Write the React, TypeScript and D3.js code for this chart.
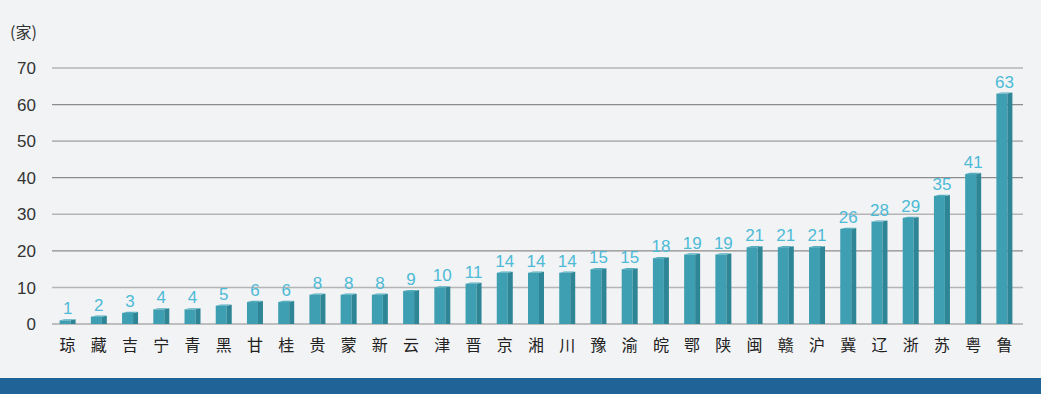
import * as d3 from 'd3';
import React, { useEffect, useRef } from 'react';

const provinces = ['琼', '藏', '吉', '宁', '青', '黑', '甘', '桂', '贵', '蒙', '新', '云', '津', '晋', '京', '湘', '川', '豫', '渝', '皖', '鄂', '陕', '闽', '赣', '沪', '冀', '辽', '浙', '苏', '粤', '鲁'];
const counts = [1, 2, 3, 4, 4, 5, 6, 6, 8, 8, 8, 9, 10, 11, 14, 14, 14, 15, 15, 18, 19, 19, 21, 21, 21, 26, 28, 29, 35, 41, 63];
const yTicks = [0, 10, 20, 30, 40, 50, 60, 70];

const App = () => {
  const ref = useRef<SVGSVGElement>(null);

  useEffect(() => {
    const width = 1041;
    const height = 394;
    const margin = { top: 68, right: 18, bottom: 70, left: 52 };
    const svg = d3.select(ref.current);
    svg.selectAll('*').remove();
    svg.attr('width', width).attr('height', height);

    svg.append('rect').attr('width', width).attr('height', height).attr('fill', '#f2f3f5');
    svg.append('rect').attr('y', 378).attr('width', width).attr('height', 16).attr('fill', '#1f6397');

    const x = d3.scaleBand().domain(provinces).range([margin.left, width - margin.right - 3]);
    const y = d3.scaleLinear().domain([0, 70]).range([height - margin.bottom, margin.top]);

    // gridlines
    svg.append('g')
      .selectAll('line')
      .data(yTicks)
      .join('line')
      .attr('x1', margin.left)
      .attr('x2', width - margin.right)
      .attr('y1', (d) => y(d))
      .attr('y2', (d) => y(d))
      .attr('stroke', (d, i) => (i === 0 ? '#8a8a8a' : i % 2 === 0 ? '#8c8c8c' : '#b5b5b5'))
      .attr('stroke-width', (d, i) => (i % 2 === 0 ? 1.2 : 1.6));

    // y tick labels
    svg.append('g')
      .selectAll('text')
      .data(yTicks)
      .join('text')
      .attr('x', 36)
      .attr('y', (d) => y(d))
      .attr('dy', '0.36em')
      .attr('text-anchor', 'end')
      .attr('font-family', 'Liberation Sans, Arial, sans-serif')
      .attr('font-size', 17)
      .attr('fill', '#333')
      .text((d) => d);

    svg.append('text')
      .attr('x', 10)
      .attr('y', 38)
      .attr('font-family', 'Noto Sans CJK SC, sans-serif')
      .attr('font-size', 16)
      .attr('fill', '#333')
      .text('(家)');

    const data = provinces.map((p, i) => ({ p, v: counts[i] }));
    const front = 11;
    const side = 5;
    const bars = svg.append('g').selectAll('g').data(data).join('g')
      .attr('transform', (d) => `translate(${x(d.p)! + x.bandwidth() / 2 - (front + side) / 2},0)`);

    bars.append('rect')
      .attr('x', 0)
      .attr('y', (d) => y(d.v))
      .attr('width', front)
      .attr('height', (d) => y(0) - y(d.v))
      .attr('fill', '#3f9fb2');
    bars.append('path')
      .attr('d', (d) => `M${front},${y(d.v)} L${front + side},${y(d.v) - 1} L${front + side},${y(0)} L${front},${y(0)} Z`)
      .attr('fill', '#2e8595');
    bars.append('path')
      .attr('d', (d) => `M0,${y(d.v)} L${side},${y(d.v) - 1.2} L${front + side},${y(d.v) - 1.2} L${front},${y(d.v)} Z`)
      .attr('fill', '#52aebf');

    bars.append('text')
      .attr('x', (front + side) / 2)
      .attr('y', (d) => y(d.v) - 6)
      .attr('text-anchor', 'middle')
      .attr('font-family', 'Liberation Sans, Arial, sans-serif')
      .attr('font-size', 17)
      .attr('fill', '#4dbad6')
      .text((d) => d.v);

    svg.append('g')
      .selectAll('text')
      .data(provinces)
      .join('text')
      .attr('x', (d) => x(d)! + x.bandwidth() / 2)
      .attr('y', 351)
      .attr('text-anchor', 'middle')
      .attr('font-family', 'Noto Sans CJK SC, sans-serif')
      .attr('font-size', 16)
      .attr('fill', '#222')
      .text((d) => d);
  }, []);

  return (
    <div style={{ position: 'fixed', left: 0, top: 0 }}>
      <svg ref={ref} style={{ display: 'block' }}></svg>
    </div>
  );
};

export default App;
